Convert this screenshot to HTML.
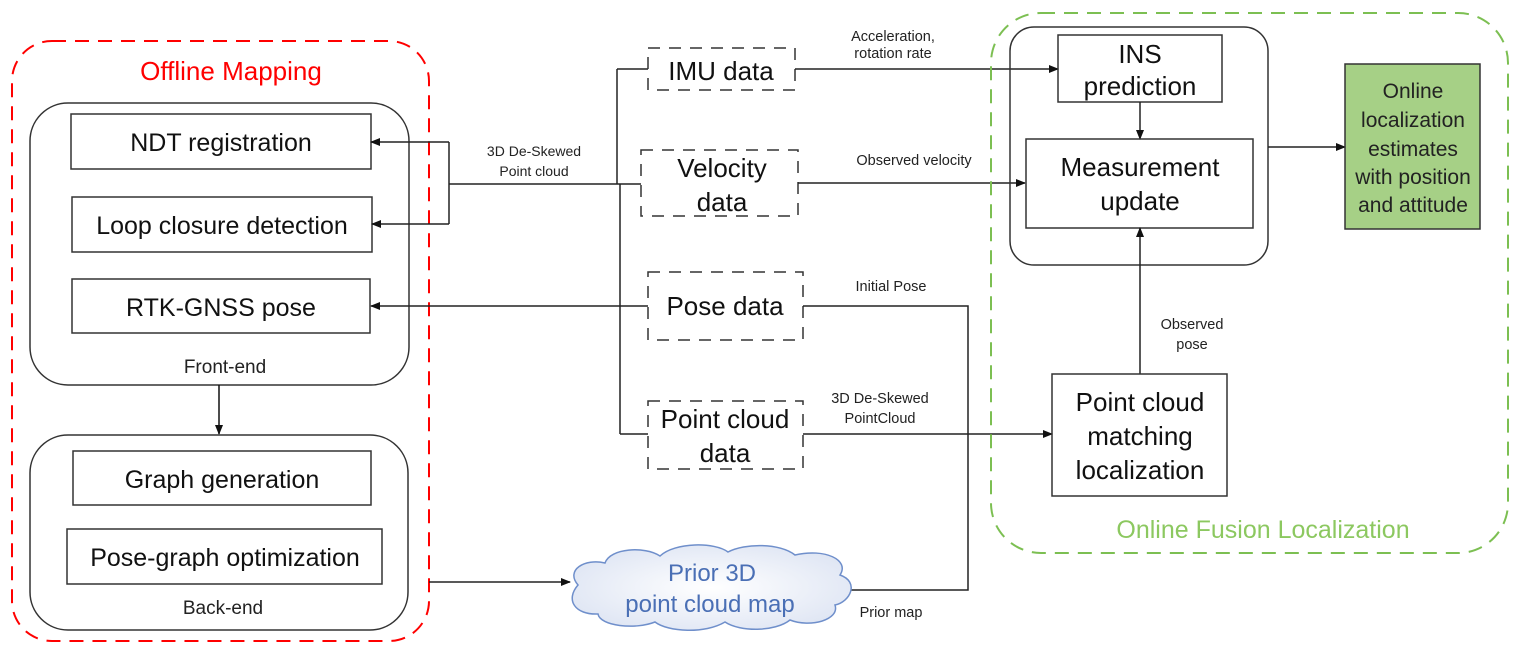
<!DOCTYPE html>
<html><head><meta charset="utf-8"><style>
html,body{margin:0;padding:0;background:#fff;}
svg{display:block;}
text{font-family:"Liberation Sans",sans-serif;}
</style></head><body>
<svg width="1526" height="657" viewBox="0 0 1526 657" xmlns="http://www.w3.org/2000/svg">
<defs>
<marker id="a" markerWidth="10" markerHeight="8" refX="9" refY="4" orient="auto" markerUnits="userSpaceOnUse">
<path d="M0,0 L10,4 L0,8 z" fill="#111"/></marker>
<radialGradient id="cg" cx="0.5" cy="0.5" r="0.6"><stop offset="0" stop-color="#ffffff"/><stop offset="1" stop-color="#dde4f3"/></radialGradient>
</defs>

<rect x="12" y="41" width="417" height="600" rx="40" fill="none" stroke="#f00" stroke-width="2" stroke-dasharray="14,9"/>
<text x="231" y="80" font-size="26" fill="#f00" text-anchor="middle">Offline Mapping</text>

<rect x="30" y="103" width="379" height="282" rx="38" fill="none" stroke="#333" stroke-width="1.5"/>
<rect x="71" y="114" width="300" height="55" fill="none" stroke="#333" stroke-width="1.5"/>
<text x="221" y="151" font-size="25" text-anchor="middle" fill="#111">NDT registration</text>
<rect x="72" y="197" width="300" height="55" fill="none" stroke="#333" stroke-width="1.5"/>
<text x="222" y="234" font-size="25" text-anchor="middle" fill="#111">Loop closure detection</text>
<rect x="72" y="279" width="298" height="54" fill="none" stroke="#333" stroke-width="1.5"/>
<text x="221" y="316" font-size="25" text-anchor="middle" fill="#111">RTK-GNSS pose</text>
<text x="225" y="373" font-size="19" text-anchor="middle" fill="#222">Front-end</text>

<line x1="219" y1="385" x2="219" y2="434" stroke="#111" stroke-width="1.5" marker-end="url(#a)"/>

<rect x="30" y="435" width="378" height="195" rx="38" fill="none" stroke="#333" stroke-width="1.5"/>
<rect x="73" y="451" width="298" height="54" fill="none" stroke="#333" stroke-width="1.5"/>
<text x="222" y="488" font-size="25" text-anchor="middle" fill="#111">Graph generation</text>
<rect x="67" y="529" width="315" height="55" fill="none" stroke="#333" stroke-width="1.5"/>
<text x="225" y="566" font-size="25" text-anchor="middle" fill="#111">Pose-graph optimization</text>
<text x="223" y="614" font-size="19" text-anchor="middle" fill="#222">Back-end</text>

<polyline points="449,142 449,224" fill="none" stroke="#222" stroke-width="1.5"/>
<line x1="449" y1="142" x2="371" y2="142" stroke="#222" stroke-width="1.5" marker-end="url(#a)"/>
<line x1="449" y1="224" x2="372" y2="224" stroke="#222" stroke-width="1.5" marker-end="url(#a)"/>
<line x1="449" y1="184" x2="641" y2="184" stroke="#222" stroke-width="1.5"/>
<text x="534" y="156" font-size="14" text-anchor="middle" fill="#222">3D De-Skewed</text>
<text x="534" y="176" font-size="14" text-anchor="middle" fill="#222">Point cloud</text>

<line x1="617" y1="69" x2="617" y2="184" stroke="#222" stroke-width="1.5"/>
<line x1="617" y1="69" x2="648" y2="69" stroke="#222" stroke-width="1.5"/>
<line x1="620" y1="184" x2="620" y2="434" stroke="#222" stroke-width="1.5"/>
<line x1="620" y1="434" x2="648" y2="434" stroke="#222" stroke-width="1.5"/>
<line x1="648" y1="306" x2="371" y2="306" stroke="#222" stroke-width="1.5" marker-end="url(#a)"/>

<g fill="none" stroke="#333" stroke-width="1.5" stroke-dasharray="12,9">
<rect x="648" y="48" width="147" height="42"/>
<rect x="641" y="150" width="157" height="66"/>
<rect x="648" y="272" width="155" height="68"/>
<rect x="648" y="401" width="155" height="68"/>
</g>
<text x="721" y="80" font-size="26" text-anchor="middle" fill="#111">IMU data</text>
<text x="722" y="177" font-size="26" text-anchor="middle" fill="#111">Velocity</text>
<text x="722" y="211" font-size="26" text-anchor="middle" fill="#111">data</text>
<text x="725" y="315" font-size="26" text-anchor="middle" fill="#111">Pose data</text>
<text x="725" y="428" font-size="26" text-anchor="middle" fill="#111">Point cloud</text>
<text x="725" y="462" font-size="26" text-anchor="middle" fill="#111">data</text>

<line x1="795" y1="69" x2="1058" y2="69" stroke="#222" stroke-width="1.5" marker-end="url(#a)"/>
<text x="893" y="41" font-size="14.5" text-anchor="middle" fill="#222">Acceleration,</text>
<text x="893" y="58" font-size="14.5" text-anchor="middle" fill="#222">rotation rate</text>
<line x1="798" y1="183" x2="1025" y2="183" stroke="#222" stroke-width="1.5" marker-end="url(#a)"/>
<text x="914" y="165" font-size="14.5" text-anchor="middle" fill="#222">Observed velocity</text>
<polyline points="803,306 968,306 968,590 850,590" fill="none" stroke="#222" stroke-width="1.5"/>
<text x="891" y="291" font-size="14.5" text-anchor="middle" fill="#222">Initial Pose</text>
<line x1="803" y1="434" x2="1052" y2="434" stroke="#222" stroke-width="1.5" marker-end="url(#a)"/>
<text x="880" y="403" font-size="14.5" text-anchor="middle" fill="#222">3D De-Skewed</text>
<text x="880" y="423" font-size="14.5" text-anchor="middle" fill="#222">PointCloud</text>
<text x="891" y="617" font-size="14.5" text-anchor="middle" fill="#222">Prior map</text>

<line x1="429" y1="582" x2="570" y2="582" stroke="#222" stroke-width="1.5" marker-end="url(#a)"/>
<path d="M578,585 C565,570 585,558 605,563 C610,548 645,546 660,556 C675,542 715,542 728,552 C745,543 780,543 795,555 C825,548 850,560 840,575 C860,582 850,602 835,605 C840,620 810,628 790,620 C775,632 740,632 725,622 C705,634 668,632 655,622 C635,630 600,626 598,614 C575,615 565,600 578,585 z" fill="url(#cg)" stroke="#6f8fcb" stroke-width="1.5"/>
<text x="712" y="581" font-size="24" text-anchor="middle" fill="#4a6fb5">Prior 3D</text>
<text x="710" y="612" font-size="24" text-anchor="middle" fill="#4a6fb5">point cloud map</text>

<rect x="991" y="13" width="517" height="540" rx="50" fill="none" stroke="#7cbf52" stroke-width="2" stroke-dasharray="14,9"/>
<text x="1263" y="538" font-size="25" text-anchor="middle" fill="#8cc860">Online Fusion Localization</text>

<rect x="1010" y="27" width="258" height="238" rx="24" fill="none" stroke="#333" stroke-width="1.5"/>
<rect x="1058" y="35" width="164" height="67" fill="none" stroke="#333" stroke-width="1.5"/>
<text x="1140" y="63" font-size="26" text-anchor="middle" fill="#111">INS</text>
<text x="1140" y="95" font-size="26" text-anchor="middle" fill="#111">prediction</text>
<line x1="1140" y1="102" x2="1140" y2="139" stroke="#222" stroke-width="1.5" marker-end="url(#a)"/>
<rect x="1026" y="139" width="227" height="89" fill="none" stroke="#333" stroke-width="1.5"/>
<text x="1140" y="176" font-size="26" text-anchor="middle" fill="#111">Measurement</text>
<text x="1140" y="210" font-size="26" text-anchor="middle" fill="#111">update</text>

<line x1="1268" y1="147" x2="1345" y2="147" stroke="#222" stroke-width="1.5" marker-end="url(#a)"/>
<rect x="1345" y="64" width="135" height="165" fill="#a6d086" stroke="#333" stroke-width="1.5"/>
<g font-size="21" text-anchor="middle" fill="#222">
<text x="1413" y="98">Online</text>
<text x="1413" y="127">localization</text>
<text x="1413" y="156">estimates</text>
<text x="1413" y="184">with position</text>
<text x="1413" y="212">and attitude</text>
</g>

<line x1="1140" y1="374" x2="1140" y2="228" stroke="#222" stroke-width="1.5" marker-end="url(#a)"/>
<text x="1192" y="329" font-size="14.5" text-anchor="middle" fill="#222">Observed</text>
<text x="1192" y="349" font-size="14.5" text-anchor="middle" fill="#222">pose</text>
<rect x="1052" y="374" width="175" height="122" fill="none" stroke="#333" stroke-width="1.5"/>
<text x="1140" y="411" font-size="26" text-anchor="middle" fill="#111">Point cloud</text>
<text x="1140" y="445" font-size="26" text-anchor="middle" fill="#111">matching</text>
<text x="1140" y="479" font-size="26" text-anchor="middle" fill="#111">localization</text>
</svg>
</body></html>
